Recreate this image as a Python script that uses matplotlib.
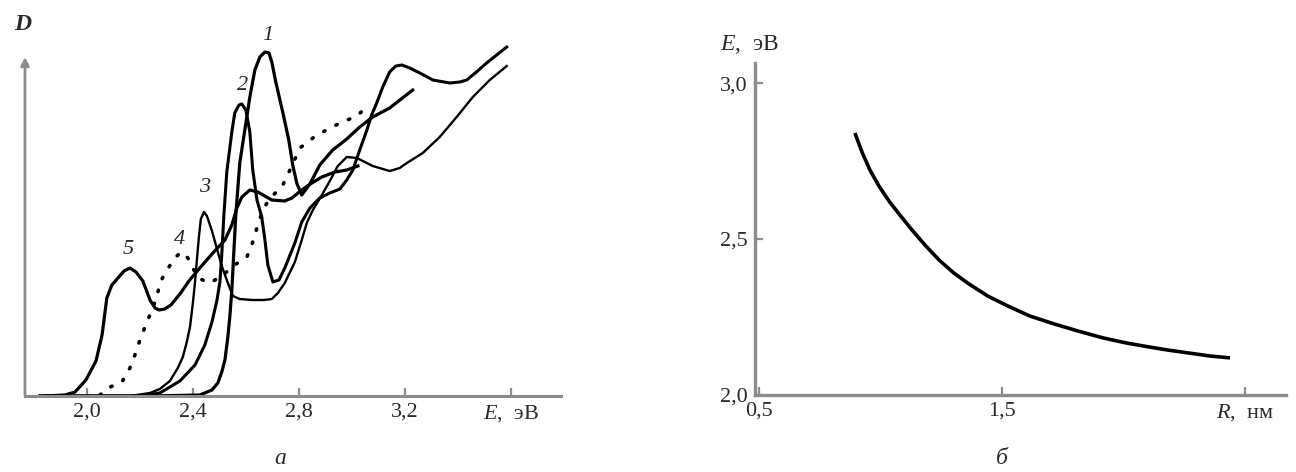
import matplotlib
matplotlib.use("Agg")
import matplotlib.pyplot as plt

plt.rcParams["font.family"] = ["Liberation Serif", "DejaVu Serif"]
plt.rcParams["mathtext.fontset"] = "custom"
plt.rcParams["mathtext.it"] = "Liberation Serif:italic"
plt.rcParams["mathtext.rm"] = "Liberation Serif"

# ---- panel a: absorption spectra D(E), curves 1..5 ----
e1 = [1.823, 2.238, 2.426, 2.472, 2.494, 2.509, 2.521, 2.532, 2.540, 2.547, 2.555, 2.562,
      2.577, 2.596, 2.615, 2.634, 2.653, 2.672, 2.687, 2.698, 2.713, 2.740, 2.762, 2.777,
      2.792, 2.811, 2.842, 2.879, 2.928, 2.981, 3.030, 3.079, 3.143, 3.230]
d1 = [0, 0, 0.01, 0.06, 0.13, 0.24, 0.36, 0.59, 0.81, 1.06, 1.46, 1.81,
      2.33, 2.66, 2.99, 3.26, 3.39, 3.44, 3.43, 3.34, 3.14, 2.83, 2.56, 2.31,
      2.13, 2.01, 2.12, 2.31, 2.46, 2.57, 2.69, 2.79, 2.88, 3.06]

e2 = [1.823, 2.200, 2.275, 2.351, 2.408, 2.445, 2.472, 2.491, 2.502, 2.509, 2.517, 2.528,
      2.547, 2.558, 2.574, 2.585, 2.600, 2.615, 2.626, 2.642, 2.660, 2.672, 2.683, 2.702,
      2.725, 2.747, 2.785, 2.811, 2.842, 2.879, 2.917, 2.955, 2.981, 3.004, 3.030, 3.057,
      3.075, 3.094, 3.117, 3.143, 3.166, 3.189, 3.219, 3.257, 3.306, 3.370, 3.408, 3.434,
      3.475, 3.509, 3.547, 3.585]
d2 = [0, 0, 0.03, 0.15, 0.31, 0.51, 0.74, 0.96, 1.14, 1.41, 1.81, 2.24,
      2.64, 2.83, 2.91, 2.92, 2.86, 2.64, 2.26, 1.96, 1.79, 1.56, 1.31, 1.14,
      1.16, 1.28, 1.53, 1.74, 1.88, 1.98, 2.03, 2.07, 2.16, 2.26, 2.46, 2.66,
      2.81, 2.93, 3.09, 3.24, 3.30, 3.31, 3.28, 3.23, 3.16, 3.13, 3.14, 3.16,
      3.25, 3.33, 3.41, 3.49]

e3 = [1.823, 2.162, 2.238, 2.275, 2.313, 2.343, 2.362, 2.377, 2.389, 2.400, 2.408, 2.415,
      2.423, 2.430, 2.442, 2.453, 2.472, 2.491, 2.509, 2.532, 2.551, 2.577, 2.623, 2.668,
      2.698, 2.721, 2.747, 2.785, 2.811, 2.830, 2.853, 2.887, 2.917, 2.947, 2.981, 3.019,
      3.079, 3.143, 3.181, 3.208, 3.268, 3.332, 3.396, 3.457, 3.521, 3.585]
d3 = [0, 0, 0.03, 0.07, 0.15, 0.28, 0.39, 0.54, 0.69, 0.93, 1.14, 1.36,
      1.60, 1.77, 1.84, 1.80, 1.65, 1.47, 1.30, 1.13, 1.00, 0.97, 0.96, 0.96,
      0.97, 1.03, 1.13, 1.34, 1.56, 1.73, 1.86, 2.01, 2.15, 2.30, 2.39, 2.38,
      2.30, 2.25, 2.28, 2.33, 2.43, 2.59, 2.79, 2.99, 3.16, 3.30]

e4 = [2.049, 2.079, 2.132, 2.162, 2.181, 2.200, 2.219, 2.242, 2.264, 2.275, 2.302, 2.332,
      2.355, 2.381, 2.419, 2.464, 2.509, 2.558, 2.604, 2.626, 2.645, 2.664, 2.691, 2.736,
      2.770, 2.804, 2.853, 2.917, 2.974, 3.019, 3.060]
d4 = [0.01, 0.08, 0.14, 0.28, 0.41, 0.56, 0.69, 0.84, 0.99, 1.13, 1.26, 1.38,
      1.44, 1.38, 1.18, 1.13, 1.20, 1.31, 1.39, 1.54, 1.71, 1.86, 1.98, 2.09,
      2.28, 2.48, 2.58, 2.68, 2.75, 2.80, 2.90]

e5 = [1.842, 1.917, 1.955, 1.996, 2.034, 2.057, 2.075, 2.094, 2.117, 2.140, 2.162, 2.185,
      2.211, 2.238, 2.257, 2.272, 2.294, 2.317, 2.351, 2.385, 2.426, 2.479, 2.521, 2.547,
      2.566, 2.585, 2.615, 2.645, 2.698, 2.747, 2.774, 2.811, 2.849, 2.887, 2.936, 2.981,
      3.023]
d5 = [0, 0.01, 0.04, 0.16, 0.35, 0.61, 0.98, 1.11, 1.18, 1.25, 1.28, 1.24,
      1.15, 0.96, 0.88, 0.86, 0.87, 0.91, 1.02, 1.15, 1.28, 1.44, 1.56, 1.71,
      1.88, 1.99, 2.06, 2.04, 1.96, 1.95, 1.98, 2.06, 2.13, 2.19, 2.24, 2.26,
      2.30]

curve_labels = ["1", "2", "3", "4", "5"]
label_e = [2.683, 2.589, 2.445, 2.351, 2.155]
label_d = [3.61, 3.10, 2.09, 1.56, 1.46]

e_ticks = [2.0, 2.4, 2.8, 3.2, 3.6]
e_ticklabels = ["2,0", "2,4", "2,8", "3,2", r"$E$,  эВ"]

# ---- panel б: E(R) ----
r_nm = [0.895, 0.924, 0.957, 0.994, 1.035, 1.080, 1.130, 1.183, 1.241, 1.302, 1.364, 1.442,
        1.525, 1.615, 1.714, 1.813, 1.916, 2.010, 2.105, 2.183, 2.265, 2.356, 2.438]
e_ev = [2.840, 2.779, 2.721, 2.670, 2.622, 2.577, 2.529, 2.481, 2.433, 2.391, 2.356, 2.317,
        2.285, 2.253, 2.228, 2.205, 2.183, 2.167, 2.154, 2.144, 2.135, 2.125, 2.119]

r_ticks = [0.5, 1.5, 2.5]
r_ticklabels = ["0,5", "1,5", r"$R$,  нм"]
ev_ticks = [2.0, 2.5, 3.0]
ev_ticklabels = ["2,0", "2,5", "3,0"]

W, H = 1296, 472
fig = plt.figure(figsize=(W / 100, H / 100), dpi=100)
axis_grey = "#8c8c8c"
txt = "#2a2a2a"
fs = 16

# =====================
# panel a
# =====================
ax = fig.add_axes([25 / W, (H - 396) / H, 536 / W, 376 / H])
ax.set_xlim(1.766, 3.79)
ax.set_ylim(0, 3.76)

ax.plot(e1, d1, color="black", lw=2.3, solid_joinstyle="round")
ax.plot(e2, d2, color="black", lw=2.2, solid_joinstyle="round")
ax.plot(e3, d3, color="black", lw=1.7, solid_joinstyle="round")
ax.plot(e5, d5, color="black", lw=2.3, solid_joinstyle="round")
ax.plot(e4, d4, color="black", lw=2.6, linestyle=(0, (0.4, 3.4)),
        dash_capstyle="round")

for lab, x, y in zip(curve_labels, label_e, label_d):
    ax.text(x, y, lab, fontsize=fs, style="italic", color=txt,
            ha="center", va="center")

for s in ["top", "right", "left"]:
    ax.spines[s].set_visible(False)
ax.spines["bottom"].set_color(axis_grey)
ax.spines["bottom"].set_linewidth(2.2)
ax.annotate("", xy=(1.766, 3.39), xytext=(1.766, 0),
            arrowprops=dict(arrowstyle="-|>", color=axis_grey, lw=2.0,
                            mutation_scale=12, shrinkA=0, shrinkB=0),
            annotation_clip=False)

ax.set_xticks(e_ticks)
ax.set_xticklabels(e_ticklabels)
ax.set_yticks([])
ax.tick_params(axis="x", direction="in", length=6, width=1.6, color=axis_grey,
               labelsize=fs, labelcolor=txt, pad=5)

fig.text(23 / W, 1 - 25 / H, "D", fontsize=fs + 1, style="italic", weight="bold",
         color=txt, ha="center", va="center")
fig.text(280 / W, 1 - 458 / H, "а", fontsize=fs + 1, style="italic", color=txt,
         ha="center", va="center")

# =====================
# panel б
# =====================
bx = fig.add_axes([755 / W, (H - 395) / H, 535 / W, 355 / H])
bx.set_xlim(0.484, 2.685)
bx.set_ylim(2.0, 3.138)

bx.plot(r_nm, e_ev, color="black", lw=2.6, solid_capstyle="butt",
        solid_joinstyle="round")

for s in ["top", "right"]:
    bx.spines[s].set_visible(False)
for s in ["left", "bottom"]:
    bx.spines[s].set_color(axis_grey)
    bx.spines[s].set_linewidth(2.4)
bx.spines["left"].set_bounds(2.0, 3.064)
bx.spines["bottom"].set_bounds(0.484, 2.67)

bx.set_xticks(r_ticks)
bx.set_xticklabels(r_ticklabels)
bx.set_yticks(ev_ticks)
bx.set_yticklabels(ev_ticklabels)
bx.tick_params(direction="in", length=6, width=1.6, color=axis_grey,
               labelsize=fs, labelcolor=txt, pad=5)

fig.text(750 / W, 1 - 45 / H, r"$E$,  эВ", fontsize=fs + 1, color=txt,
         ha="center", va="center")
fig.text(1002 / W, 1 - 458 / H, "б", fontsize=fs + 1, style="italic", color=txt,
         ha="center", va="center")

fig.savefig("out.png", dpi=100, facecolor="white")
